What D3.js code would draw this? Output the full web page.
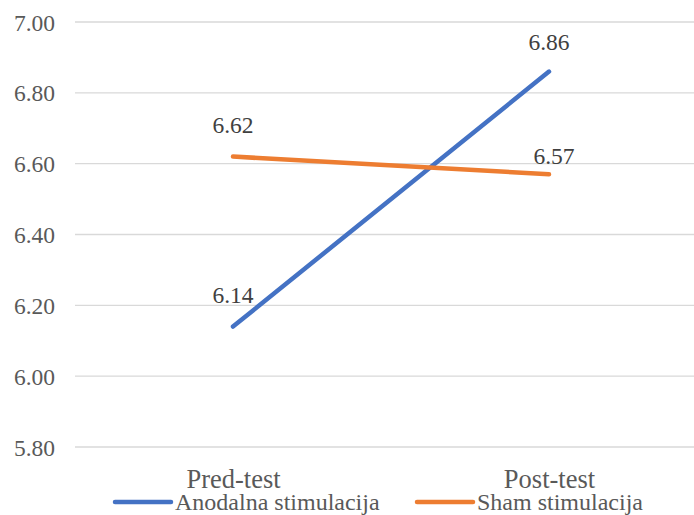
<!DOCTYPE html>
<html><head><meta charset="utf-8">
<script src="https://cdn.jsdelivr.net/npm/d3@7"></script>
<style>body{margin:0;background:#fff}svg{display:block}</style>
</head><body><svg id="c" width="694" height="515"></svg>
<script>
const categories = ["Pred-test", "Post-test"];
const seriesNames = ["Anodalna stimulacija", "Sham stimulacija"];
const anodalna = [6.14, 6.86];
const sham = [6.62, 6.57];
const yTicks = [5.8, 6.0, 6.2, 6.4, 6.6, 6.8, 7.0];
const colors = ["#4472C4", "#ED7D31"];

(function(){
const FONT = '"Liberation Serif", "Times New Roman", serif';
const svg = d3.select("#c");
const W = 694;
const mLeft = 75, mRight = 707, mTop = 22, mBottom = 447;
const x = d3.scalePoint().domain(categories).range([mLeft, mRight]).padding(0.5);
const y = d3.scaleLinear().domain([5.8, 7.0]).range([mBottom, mTop]);

// gridlines
svg.append("g").selectAll("line").data(yTicks).join("line")
  .attr("x1", mLeft).attr("x2", W).attr("y1", d => y(d)).attr("y2", d => y(d))
  .attr("stroke", "#d9d9d9").attr("stroke-width", 1.3);

// y axis labels
const yAxis = d3.axisLeft(y).tickValues(yTicks).tickFormat(d3.format(".2f")).tickSize(0).tickPadding(0);
const ya = svg.append("g").attr("transform", `translate(${mLeft - 20},0)`).call(yAxis);
ya.select(".domain").remove();
ya.selectAll("text").style("font-family", FONT).style("font-size", "23.5px").attr("fill", "#595959").attr("dy", "0.34em");

// x axis labels
const xAxis = d3.axisBottom(x).tickSize(0).tickPadding(0);
const xa = svg.append("g").attr("transform", `translate(0,${mBottom})`).call(xAxis);
xa.select(".domain").remove();
xa.selectAll("text").style("font-family", FONT).style("font-size", "26.5px").attr("fill", "#595959").attr("dy", 0).attr("y", 40.5);

// lines
const series = [anodalna, sham];
const line = d3.line().x((d, i) => x(categories[i])).y(d => y(d));
series.forEach((s, k) => {
  svg.append("path").datum(s).attr("d", line).attr("fill", "none")
    .attr("stroke", colors[k]).attr("stroke-width", 4.5).attr("stroke-linecap", "round");
});

// data labels
const labelDy = [[-24, -22], [-24, -10]];
const labelDx = [[0, 0], [0, 5]];
series.forEach((s, k) => {
  svg.append("g").selectAll("text").data(s).join("text")
    .attr("x", (d, i) => x(categories[i]) + labelDx[k][i])
    .attr("y", (d, i) => y(d) + labelDy[k][i])
    .attr("text-anchor", "middle").style("font-family", FONT).style("font-size", "23.5px").attr("fill", "#404040")
    .text(d => d.toFixed(2));
});

// legend
const legX = [115, 417];
const lg = svg.append("g");
seriesNames.forEach((n, k) => {
  lg.append("line").attr("x1", legX[k]).attr("x2", legX[k] + 56).attr("y1", 502).attr("y2", 502)
    .attr("stroke", colors[k]).attr("stroke-width", 4.5).attr("stroke-linecap", "round");
  lg.append("text").attr("x", legX[k] + 60).attr("y", 510).style("font-family", FONT).style("font-size", "24px").attr("fill", "#595959").text(n);
});
})();
</script></body></html>
